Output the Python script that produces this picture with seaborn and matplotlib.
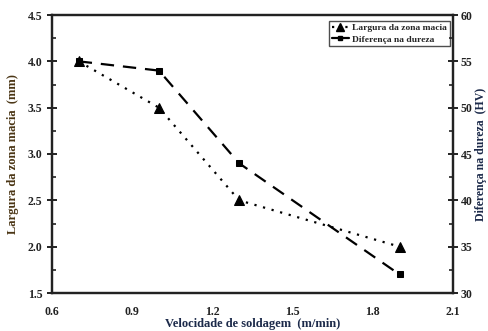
import matplotlib
matplotlib.use("Agg")
import matplotlib.pyplot as plt
import seaborn as sns
import pandas as pd
from matplotlib.ticker import MultipleLocator
from matplotlib.lines import Line2D

velocidade = [0.7, 1.0, 1.3, 1.9]
largura = [4.0, 3.5, 2.5, 2.0]
dureza = [55, 54, 44, 32]

x_ticks = [0.6, 0.9, 1.2, 1.5, 1.8, 2.1]
y_left_ticks = [1.5, 2.0, 2.5, 3.0, 3.5, 4.0, 4.5]
y_right_ticks = [30, 35, 40, 45, 50, 55, 60]

sns.set_style("white")
plt.rcParams['font.family'] = ['Liberation Serif', 'DejaVu Serif']
plt.rcParams['font.weight'] = 'bold'

df = pd.DataFrame({"v": velocidade, "l": largura, "d": dureza})

fig = plt.figure(figsize=(4.88, 3.31), dpi=100)
ax = fig.add_axes([52/488, 1-293/331, (453-52)/488, (293-15)/331])
ax2 = ax.twinx()

sns.lineplot(data=df, x="v", y="l", ax=ax, color="black", linestyle=(0, (1, 3)),
             linewidth=1.6, marker="^", markersize=7, markeredgecolor="black")
sns.lineplot(data=df, x="v", y="d", ax=ax2, color="black", linestyle=(0, (6, 4)),
             linewidth=1.6, marker="s", markersize=4, markeredgecolor="black")

ax.set_xlim(0.6, 2.1)
ax.set_ylim(1.5, 4.5)
ax2.set_ylim(30, 60)
ax.set_xticks(x_ticks)
ax.set_xticklabels([f"{t:.1f}" for t in x_ticks])
ax.set_yticks(y_left_ticks)
ax.set_yticklabels([f"{t:.1f}" for t in y_left_ticks])
ax2.set_yticks(y_right_ticks)
ax.xaxis.set_minor_locator(MultipleLocator(0.15))
ax.yaxis.set_minor_locator(MultipleLocator(0.25))
ax2.yaxis.set_minor_locator(MultipleLocator(2.5))

for a in (ax, ax2):
    for s in a.spines.values():
        s.set_linewidth(1.6)
        s.set_color("#222222")
    a.tick_params(which="major", direction="inout", length=7, width=1.4,
                  labelsize=8.5, colors="#222222")
    a.tick_params(which="minor", direction="in", length=3, width=1.2, colors="#222222")
ax.tick_params(axis="x", which="major", pad=6)
ax.tick_params(axis="x", which="both", top=False)
ax2.tick_params(axis="y", which="major", pad=2)

ax.set_xlabel("Velocidade de soldagem  (m/min)", fontsize=9, fontweight="bold",
              color="#1c2a4a", labelpad=0)
ax.set_ylabel("Largura da zona macia  (mm)", fontsize=9, fontweight="bold",
              color="#4a3514", labelpad=6)
ax2.set_ylabel("Diferença na dureza  (HV)", fontsize=8.5, fontweight="bold",
               color="#1c2a4a", labelpad=2)

handles = [
    Line2D([], [], color="black", linestyle=(0, (1, 2)), linewidth=1.6, marker="^", markersize=6),
    Line2D([], [], color="black", linestyle="-", linewidth=1.6, marker="s", markersize=3),
]
leg = ax.legend(handles, ["Largura da zona macia", "Diferença na dureza"],
                loc="upper right", bbox_to_anchor=(1.0, 0.99), fontsize=6.8,
                frameon=True, fancybox=False, edgecolor="#222222",
                handlelength=1.8, handletextpad=0.4, borderpad=0.3, labelspacing=0.3,
                borderaxespad=0.3)
leg.get_frame().set_linewidth(1.0)
for t in leg.get_texts():
    t.set_fontweight("bold")

fig.savefig("out.png", dpi=100)
